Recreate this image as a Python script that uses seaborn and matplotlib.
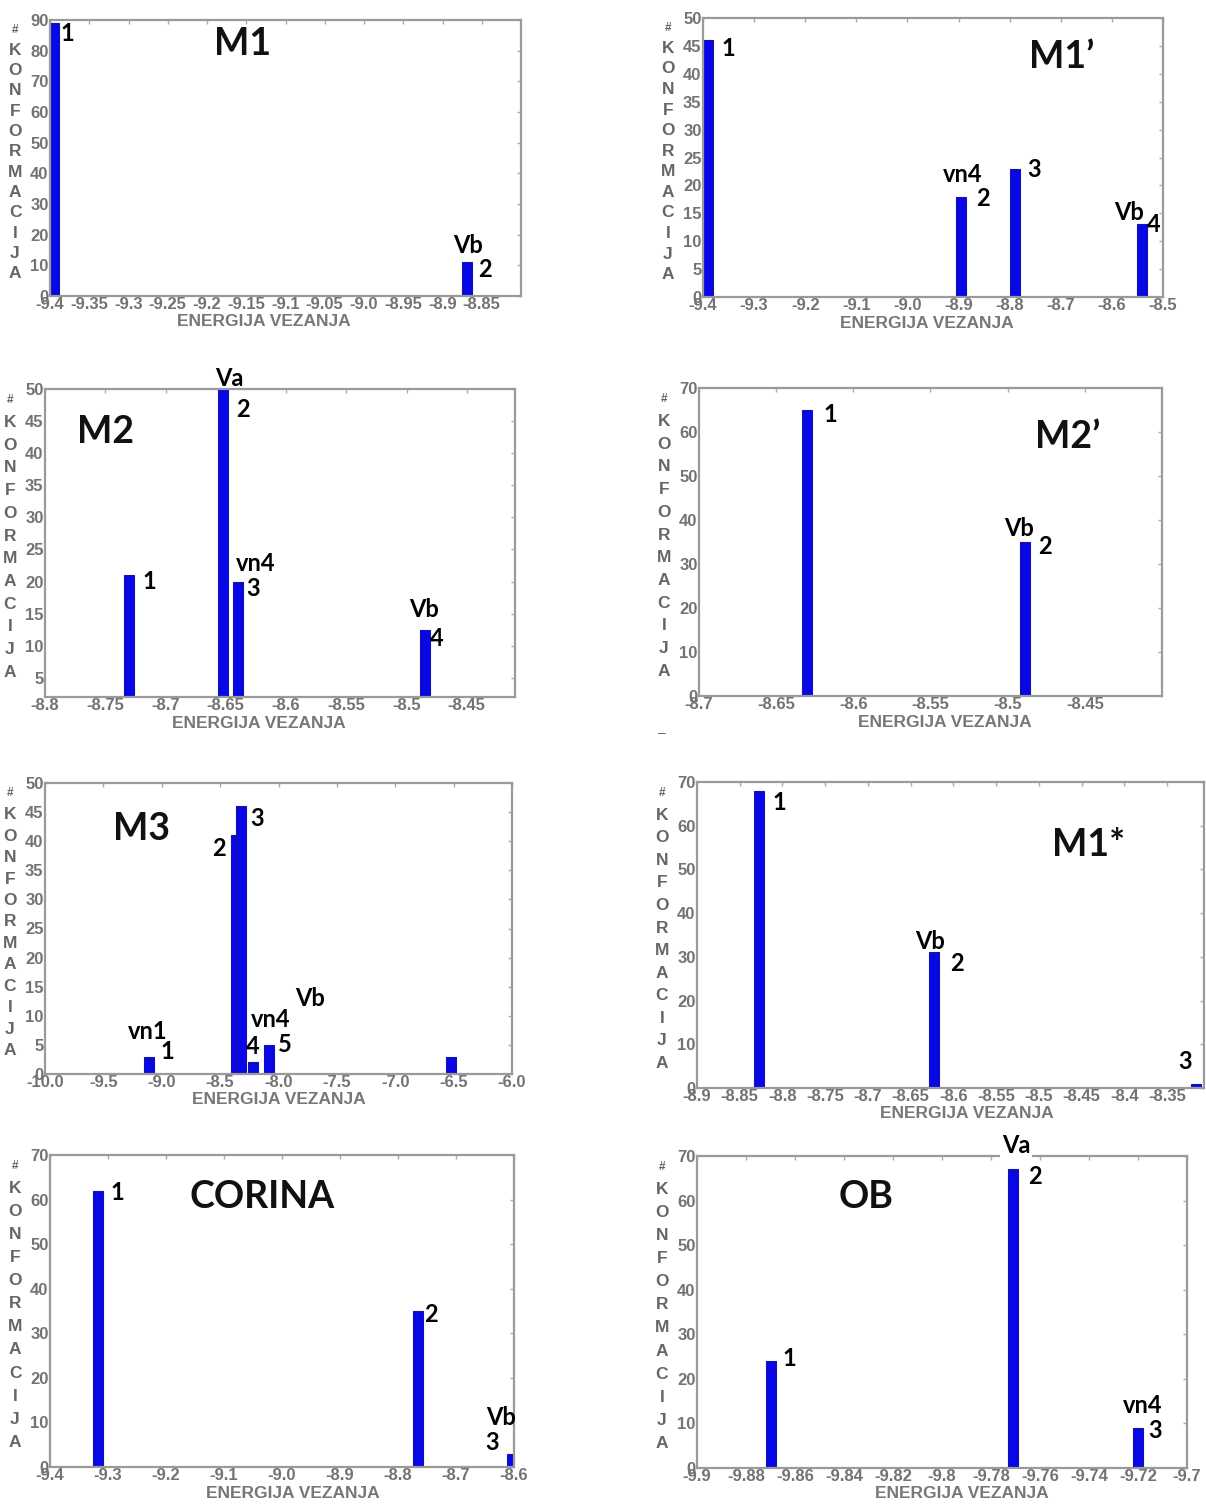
import matplotlib
matplotlib.use("Agg")
import matplotlib.pyplot as plt
import matplotlib.transforms as mtransforms
import numpy as np
import pandas as pd
import seaborn as sns

sns.set_theme(style="white")
plt.rcParams["font.family"] = ["Liberation Sans", "DejaVu Sans"]

W, H = 1206, 1504
BLUE = "#0707e8"
EDGE = "#1414a8"
GRAY = "#6a6a6a"
LABEL_FONT = ["Lato", "DejaVu Sans"]

# --- vrijednosti očitane sa slike ---
m1_energy = [-9.395, -8.869]
m1_count = [89, 11]
m1p_energy = [-9.391, -8.895, -8.789, -8.541]
m1p_count = [46, 18, 23, 13]
m2_energy = [-8.730, -8.652, -8.640, -8.485]
m2_count = [21, 50, 20, 12.5]
m2p_energy = [-8.630, -8.489]
m2p_count = [65, 35]
m3_energy = [-9.112, -8.360, -8.325, -8.217, -8.082, -6.526]
m3_count = [3, 41, 46, 2, 5, 3]
m1s_energy = [-8.827, -8.623, -8.316]
m1s_count = [68, 31, 1]
corina_energy = [-9.318, -8.765, -8.603]
corina_count = [62, 35, 3]
ob_energy = [-9.870, -9.771, -9.720]
ob_count = [24, 67, 9]

m1_xticks = ["-9.4", "-9.35", "-9.3", "-9.25", "-9.2", "-9.15", "-9.1", "-9.05",
             "-9.0", "-8.95", "-8.9", "-8.85"]
m1p_xticks = ["-9.4", "-9.3", "-9.2", "-9.1", "-9.0", "-8.9", "-8.8", "-8.7", "-8.6", "-8.5"]
m2_xticks = ["-8.8", "-8.75", "-8.7", "-8.65", "-8.6", "-8.55", "-8.5", "-8.45"]
m2p_xticks = ["-8.7", "-8.65", "-8.6", "-8.55", "-8.5", "-8.45"]
m3_xticks = ["-10.0", "-9.5", "-9.0", "-8.5", "-8.0", "-7.5", "-7.0", "-6.5", "-6.0"]
m1s_xticks = ["-8.9", "-8.85", "-8.8", "-8.75", "-8.7", "-8.65", "-8.6", "-8.55",
              "-8.5", "-8.45", "-8.4", "-8.35"]
corina_xticks = ["-9.4", "-9.3", "-9.2", "-9.1", "-9.0", "-8.9", "-8.8", "-8.7", "-8.6"]
ob_xticks = ["-9.9", "-9.88", "-9.86", "-9.84", "-9.82", "-9.8", "-9.78", "-9.76",
             "-9.74", "-9.72", "-9.7"]

yticks_90 = [0, 10, 20, 30, 40, 50, 60, 70, 80, 90]
yticks_50 = [0, 5, 10, 15, 20, 25, 30, 35, 40, 45, 50]
yticks_m2 = [5, 10, 15, 20, 25, 30, 35, 40, 45, 50]
yticks_70 = [0, 10, 20, 30, 40, 50, 60, 70]

YLABEL = "#KONFORMACIJA"
XLABEL = "ENERGIJA VEZANJA"
TICK_FONT = ["Liberation Sans Narrow", "Liberation Sans", "DejaVu Sans"]

# okvir osi u pikselima (lijevo, gore, desno, dolje), naslov, sredina x-oznake, oznake stupaca
panels = [
    dict(name="M1", x=m1_energy, y=m1_count, xt=m1_xticks, yt=yticks_90,
         xlim=(-9.4, -8.80), ylim=(0, 90), box=(50, 20, 521, 296), title=(243, 44), xlab=264,
         notes=[(0, "1", 13, -10), (1, "Vb", 1, 17), (1, "2", 18, -7)]),
    dict(name="M1\u2019", x=m1p_energy, y=m1p_count, xt=m1p_xticks, yt=yticks_50,
         xlim=(-9.4, -8.5), ylim=(0, 50), box=(703, 18, 1163, 297), title=(1062, 57), xlab=927,
         notes=[(0, "1", 21, -8), (1, "vn4", 2, 22), (1, "2", 22, -2), (2, "3", 19, -1),
                (3, "Vb", -13, 12), (3, "4", 12, 0)]),
    dict(name="M2", x=m2_energy, y=m2_count, xt=m2_xticks, yt=yticks_m2,
         xlim=(-8.8, -8.41), ylim=(2, 50), box=(45, 389, 515, 697), title=(106, 432), xlab=259,
         notes=[(0, "1", 20, -6), (1, "Va", 6, 11), (1, "2", 20, -20), (2, "vn4", 18, 18),
                (2, "3", 15, -7), (3, "Vb", -1, 20), (3, "4", 12, -9)]),
    dict(name="M2\u2019", x=m2p_energy, y=m2p_count, xt=m2p_xticks, yt=yticks_70,
         xlim=(-8.7, -8.4), ylim=(0, 70), box=(699, 388, 1162, 696), title=(1068, 437), xlab=945,
         notes=[(0, "1", 23, -5), (1, "Vb", -6, 14), (1, "2", 20, -4)]),
    dict(name="M3", x=m3_energy, y=m3_count, xt=m3_xticks, yt=yticks_50,
         xlim=(-10.0, -6.0), ylim=(0, 50), box=(45, 783, 512, 1074), title=(142, 829), xlab=279,
         notes=[(0, "vn1", -1, 25), (0, "1", 19, 5), (1, "2", -17, -13), (2, "3", 17, -12),
                (3, "4", 0, 16), (4, "vn4", 2, 25), (4, "5", 16, 0), (4, "Vb", 41, 46)]),
    dict(name="M1*", x=m1s_energy, y=m1s_count, xt=m1s_xticks, yt=yticks_70,
         xlim=(-8.9, -8.307), ylim=(0, 70), box=(697, 782, 1204, 1088), title=(1089, 845), xlab=967,
         notes=[(0, "1", 20, -12), (1, "Vb", -4, 11), (1, "2", 23, -11), (2, "3", -11, 22)]),
    dict(name="CORINA", x=corina_energy, y=corina_count, xt=corina_xticks, yt=yticks_70,
         xlim=(-9.4, -8.6), ylim=(0, 70), box=(50, 1155, 514, 1467), title=(262, 1197), xlab=293,
         notes=[(0, "1", 20, -2), (1, "2", 13, -3), (2, "Vb", -11, 36), (2, "3", -20, 11)]),
    dict(name="OB", x=ob_energy, y=ob_count, xt=ob_xticks, yt=yticks_70,
         xlim=(-9.9, -9.7), ylim=(0, 70), box=(697, 1156, 1187, 1468), title=(866, 1197), xlab=962,
         notes=[(0, "1", 19, 3), (1, "Va", 3, 24), (1, "2", 22, -7), (2, "vn4", 5, 22),
                (2, "3", 17, -3)]),
]

fig = plt.figure(figsize=(W / 100, H / 100), dpi=100)
fig.patch.set_facecolor("white")

for p in panels:
    l, t, r, b = p["box"]
    ax = fig.add_axes([l / W, 1 - b / H, (r - l) / W, (b - t) / H])

    # širina stupca ~10 px, pretvorena u jedinice podataka
    df = pd.DataFrame({"energija": p["x"], "broj": p["y"]})
    data_w = 10 * (p["xlim"][1] - p["xlim"][0]) / (r - l)
    gap = np.min(np.diff(np.sort(p["x"])))
    sns.barplot(data=df, x="energija", y="broj", native_scale=True, orient="x",
                width=data_w / gap, color=BLUE, saturation=1, errorbar=None,
                edgecolor=EDGE, linewidth=0.8, ax=ax)

    ax.set_xlim(p["xlim"])
    ax.set_ylim(p["ylim"])
    ax.set_xticks([float(s) for s in p["xt"]])
    ax.set_xticklabels(p["xt"], family=TICK_FONT, fontweight="bold")
    ax.set_yticks(p["yt"])
    ax.set_yticklabels([str(v) for v in p["yt"]], family=TICK_FONT, fontweight="bold")
    ax.tick_params(direction="in", length=3, width=1, color="#aaaaaa", top=True, right=True,
                   labelsize=12, labelcolor="#737373", pad=1)
    for sp in ax.spines.values():
        sp.set_color("#9a9a9a")
        sp.set_linewidth(1.6)
    ax.set_xlabel("")
    ax.set_ylabel("")

    # naziv x osi, malo pomaknut kao na izvorniku
    fig.text(p["xlab"] / W, 1 - (b + 26) / H, XLABEL, ha="center", va="center",
             fontsize=12.5, fontweight="bold", color="#777777")

    # okomita oznaka osi, slovo po slovo
    trans = mtransforms.offset_copy(ax.transAxes, fig=fig, x=-35, y=0, units="dots")
    n = len(YLABEL)
    for i, ch in enumerate(YLABEL):
        frac = 0.965 - i * (0.965 - 0.08) / (n - 1)
        ax.text(0, frac, ch, transform=trans, ha="center", va="center",
                fontsize=12.5 if ch != "#" else 8.5, color="#666666", fontweight="bold")

    for idx, txt, dx, dy in p["notes"]:
        kw = {}
        if txt == "Va" and p["name"] == "OB":
            kw["bbox"] = dict(fc="white", ec="none", pad=1)
        ax.annotate(txt, xy=(p["x"][idx], p["y"][idx]), xytext=(dx, dy),
                    textcoords="offset pixels", ha="center", va="center",
                    fontsize=17, fontweight="bold", family=LABEL_FONT, color="black",
                    annotation_clip=False, **kw)

    fig.text(p["title"][0] / W, 1 - p["title"][1] / H, p["name"], ha="center",
             va="center", fontsize=27, fontweight="bold", family=LABEL_FONT, color="#111111")

# mala crtica ispod M2'
fig.text(662 / W, 1 - 733 / H, "\u2013", ha="center", va="center", fontsize=10, color=GRAY)

fig.savefig("out.png", dpi=100, facecolor="white")
